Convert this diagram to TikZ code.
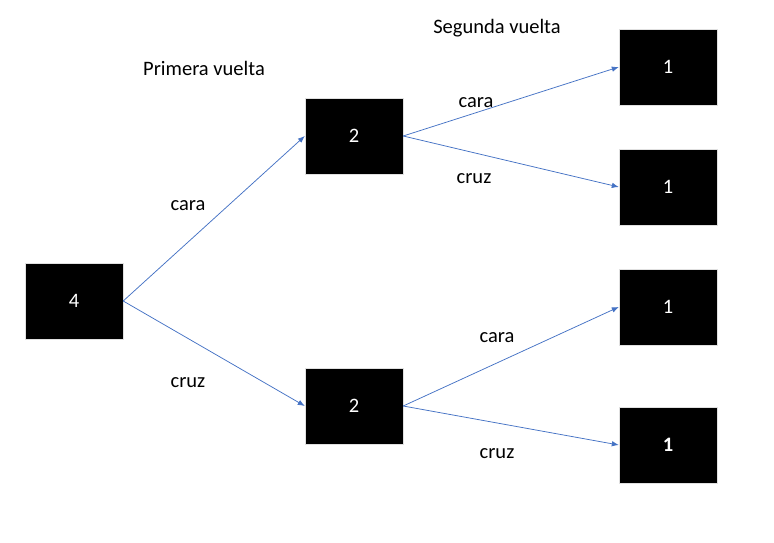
\documentclass[tikz,border=0pt]{standalone}
\usepackage{fontspec}
\setmainfont{Carlito}
\usetikzlibrary{arrows.meta}
\definecolor{azulrama}{RGB}{68,114,196}
\tikzset{
	caja/.style = {draw = black!12, fill = black, text = white, minimum width = 98pt, minimum height = 76pt, inner sep = 0pt, font = \fontsize{20.5}{24}\selectfont},
	rama/.style = {draw = azulrama, line width = .75pt, -{Latex[length=7pt, width=5.5pt]}},
	texto/.style = {font = \fontsize{20.5}{24}\selectfont}
}
\begin{document}
\begin{tikzpicture}[x=1pt, y=-1pt]
		\useasboundingbox (0,0) rectangle (774,543);
		
		\node[caja] (raiz) at (74,301) {4};
		
		\node[caja] (c2) at (354,136) {2};
		\node[caja] (x2) at (354,406) {2};
		
		\node[caja] (cc) at (668,67) {1};
		\node[caja] (cx) at (668,187) {1};
		\node[caja] (xc) at (668,307) {1};
		\node[caja] (xx) at (668,445) {\textbf{1}};
		
		\draw[rama] (raiz.east) -- (c2.west);
		\draw[rama] (raiz.east) -- (x2.west);
		\draw[rama] (c2.east) -- (cc.west);
		\draw[rama] (c2.east) -- (cx.west);
		\draw[rama] (x2.east) -- (xc.west);
		\draw[rama] (x2.east) -- (xx.west);
		
		\node[texto] (v1) at (204,68) {Primera vuelta};
		\node[texto] (v2) at (497,28) {Segunda vuelta};
		
		\node[texto] (l1) at (188,206) {cara};
		\node[texto] (l2) at (188,383) {cruz};
		\node[texto] (l3) at (476,103) {cara};
		\node[texto] (l4) at (474,179) {cruz};
		\node[texto] (l5) at (497,338) {cara};
		\node[texto] (l6) at (497,454) {cruz};
		\end{tikzpicture}
\end{document}
